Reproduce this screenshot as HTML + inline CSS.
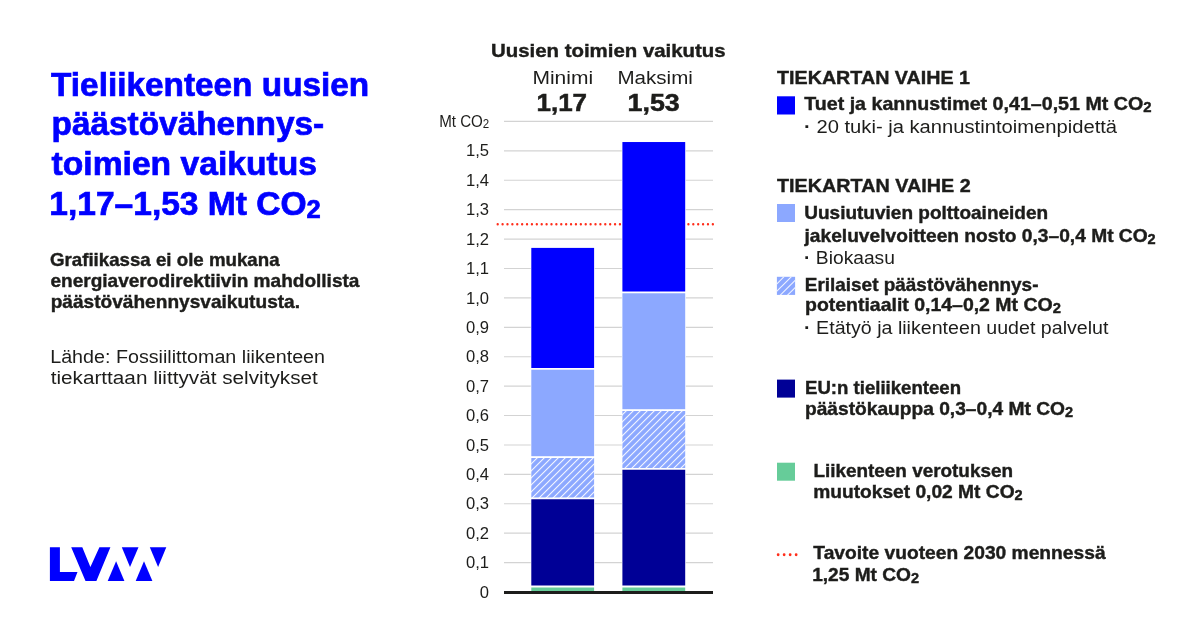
<!DOCTYPE html>
<html lang="fi">
<head>
<meta charset="utf-8">
<title>Tieliikenteen uusien päästövähennystoimien vaikutus</title>
<style>
html,body{margin:0;padding:0;background:#fff;}
body{width:1200px;height:630px;overflow:hidden;}
svg{display:block;font-family:"Liberation Sans", sans-serif;}
text{white-space:pre;}
</style>
</head>
<body>
<svg width="1200" height="630" viewBox="0 0 1200 630">
<rect width="1200" height="630" fill="#fff"/>
<defs>
<pattern id="hatch" width="4.95" height="4.95" patternUnits="userSpaceOnUse" patternTransform="translate(994.35 0) rotate(-45)"><rect width="4.95" height="4.95" fill="#8ca8ff"/><rect width="4.95" height="1.05" fill="#f2f5ff"/></pattern>
<clipPath id="sw"><rect x="776.9" y="276.8" width="18.2" height="18.1"/></clipPath>
</defs>
<!-- grid lines -->
<g stroke="#d3d3d3" stroke-width="1.15">
<line x1="504" y1="562.59" x2="713" y2="562.59"/>
<line x1="504" y1="533.18" x2="713" y2="533.18"/>
<line x1="504" y1="503.77" x2="713" y2="503.77"/>
<line x1="504" y1="474.36" x2="713" y2="474.36"/>
<line x1="504" y1="444.95" x2="713" y2="444.95"/>
<line x1="504" y1="415.54" x2="713" y2="415.54"/>
<line x1="504" y1="386.13" x2="713" y2="386.13"/>
<line x1="504" y1="356.72" x2="713" y2="356.72"/>
<line x1="504" y1="327.31" x2="713" y2="327.31"/>
<line x1="504" y1="297.9" x2="713" y2="297.9"/>
<line x1="504" y1="268.49" x2="713" y2="268.49"/>
<line x1="504" y1="239.08" x2="713" y2="239.08"/>
<line x1="504" y1="209.67" x2="713" y2="209.67"/>
<line x1="504" y1="180.26" x2="713" y2="180.26"/>
<line x1="504" y1="150.85" x2="713" y2="150.85"/>
<line x1="504" y1="121.44" x2="713" y2="121.44"/>
</g>
<!-- target dotted line -->
<line x1="497.7" y1="224.23" x2="715" y2="224.23" stroke="#ff2d1a" stroke-width="2.35" stroke-linecap="round" stroke-dasharray="0 4.89"/>
<!-- bars -->
<rect x="530.7" y="247.3" width="64.0" height="344.7" fill="#fff"/>
<rect x="531.3" y="586.12" width="62.8" height="5.88" fill="#66cc99"/>
<rect x="531.3" y="497.89" width="62.8" height="88.23" fill="#000096"/>
<rect x="531.3" y="456.71" width="62.8" height="41.18" fill="url(#hatch)"/>
<rect x="531.3" y="368.48" width="62.8" height="88.23" fill="#8ca8ff"/>
<rect x="531.3" y="247.9" width="62.8" height="120.58" fill="#0000ff"/>
<line x1="530.3" y1="586.52" x2="595.1" y2="586.52" stroke="#fff" stroke-width="1.8"/>
<line x1="530.3" y1="498.29" x2="595.1" y2="498.29" stroke="#fff" stroke-width="1.8"/>
<line x1="530.3" y1="457.11" x2="595.1" y2="457.11" stroke="#fff" stroke-width="1.8"/>
<line x1="530.3" y1="368.88" x2="595.1" y2="368.88" stroke="#fff" stroke-width="1.8"/>
<rect x="621.8" y="141.43" width="64.0" height="450.57" fill="#fff"/>
<rect x="622.4" y="586.12" width="62.8" height="5.88" fill="#66cc99"/>
<rect x="622.4" y="468.48" width="62.8" height="117.64" fill="#000096"/>
<rect x="622.4" y="409.66" width="62.8" height="58.82" fill="url(#hatch)"/>
<rect x="622.4" y="292.02" width="62.8" height="117.64" fill="#8ca8ff"/>
<rect x="622.4" y="142.03" width="62.8" height="149.99" fill="#0000ff"/>
<line x1="621.4" y1="586.52" x2="686.2" y2="586.52" stroke="#fff" stroke-width="1.8"/>
<line x1="621.4" y1="468.88" x2="686.2" y2="468.88" stroke="#fff" stroke-width="1.8"/>
<line x1="621.4" y1="410.06" x2="686.2" y2="410.06" stroke="#fff" stroke-width="1.8"/>
<line x1="621.4" y1="292.42" x2="686.2" y2="292.42" stroke="#fff" stroke-width="1.8"/>
<!-- axis -->
<rect x="504" y="591" width="209" height="3" fill="#1d1d1b"/>
<!-- y labels -->
<text x="489.0" y="597.6" font-size="16.6" fill="#1d1d1b" text-anchor="end">0</text>
<text x="489.0" y="568.19" font-size="16.6" fill="#1d1d1b" text-anchor="end">0,1</text>
<text x="489.0" y="538.78" font-size="16.6" fill="#1d1d1b" text-anchor="end">0,2</text>
<text x="489.0" y="509.37" font-size="16.6" fill="#1d1d1b" text-anchor="end">0,3</text>
<text x="489.0" y="479.96" font-size="16.6" fill="#1d1d1b" text-anchor="end">0,4</text>
<text x="489.0" y="450.55" font-size="16.6" fill="#1d1d1b" text-anchor="end">0,5</text>
<text x="489.0" y="421.14" font-size="16.6" fill="#1d1d1b" text-anchor="end">0,6</text>
<text x="489.0" y="391.73" font-size="16.6" fill="#1d1d1b" text-anchor="end">0,7</text>
<text x="489.0" y="362.32" font-size="16.6" fill="#1d1d1b" text-anchor="end">0,8</text>
<text x="489.0" y="332.91" font-size="16.6" fill="#1d1d1b" text-anchor="end">0,9</text>
<text x="489.0" y="303.5" font-size="16.6" fill="#1d1d1b" text-anchor="end">1,0</text>
<text x="489.0" y="274.09" font-size="16.6" fill="#1d1d1b" text-anchor="end">1,1</text>
<text x="489.0" y="244.68" font-size="16.6" fill="#1d1d1b" text-anchor="end">1,2</text>
<text x="489.0" y="215.27" font-size="16.6" fill="#1d1d1b" text-anchor="end">1,3</text>
<text x="489.0" y="185.86" font-size="16.6" fill="#1d1d1b" text-anchor="end">1,4</text>
<text x="489.0" y="156.45" font-size="16.6" fill="#1d1d1b" text-anchor="end">1,5</text>
<!-- texts -->
<text x="51.05" y="95.5" font-size="33" fill="#0000ff" font-weight="bold" stroke="#0000ff" stroke-width="0.73" textLength="318.2" lengthAdjust="spacingAndGlyphs">Tieliikenteen uusien</text>
<text x="51.55" y="135.0" font-size="33" fill="#0000ff" font-weight="bold" stroke="#0000ff" stroke-width="0.73" textLength="272.65" lengthAdjust="spacingAndGlyphs">päästövähennys-</text>
<text x="51.55" y="175.0" font-size="33" fill="#0000ff" font-weight="bold" stroke="#0000ff" stroke-width="0.73" textLength="265.45" lengthAdjust="spacingAndGlyphs">toimien vaikutus</text>
<text x="49.3" y="214.6" font-size="33" fill="#0000ff" font-weight="bold" stroke="#0000ff" stroke-width="0.73" textLength="271.49" lengthAdjust="spacingAndGlyphs">1,17–1,53 Mt CO<tspan font-size="25.1" dy="3.3">2</tspan></text>
<text x="49.95" y="265.8" font-size="18.5" fill="#1d1d1b" font-weight="bold" stroke="#1d1d1b" stroke-width="0.41" textLength="229.65" lengthAdjust="spacingAndGlyphs">Grafiikassa ei ole mukana</text>
<text x="50.45" y="287.0" font-size="18.5" fill="#1d1d1b" font-weight="bold" stroke="#1d1d1b" stroke-width="0.41" textLength="309.0" lengthAdjust="spacingAndGlyphs">energiaverodirektiivin mahdollista</text>
<text x="50.7" y="308.3" font-size="18.5" fill="#1d1d1b" font-weight="bold" stroke="#1d1d1b" stroke-width="0.41" textLength="249.35" lengthAdjust="spacingAndGlyphs">päästövähennysvaikutusta.</text>
<text x="50.2" y="363.0" font-size="18.8" fill="#1d1d1b" textLength="274.85" lengthAdjust="spacingAndGlyphs">Lähde: Fossiilittoman liikenteen</text>
<text x="50.7" y="384.3" font-size="18.8" fill="#1d1d1b" textLength="267.1" lengthAdjust="spacingAndGlyphs">tiekarttaan liittyvät selvitykset</text>
<text x="490.95" y="57.4" font-size="18.5" fill="#1d1d1b" font-weight="bold" stroke="#1d1d1b" stroke-width="0.41" textLength="234.75" lengthAdjust="spacingAndGlyphs">Uusien toimien vaikutus</text>
<text x="532.4" y="83.9" font-size="18.8" fill="#1d1d1b" textLength="60.67" lengthAdjust="spacingAndGlyphs">Minimi</text>
<text x="617.5" y="83.9" font-size="18.8" fill="#1d1d1b" textLength="75.36" lengthAdjust="spacingAndGlyphs">Maksimi</text>
<text x="536.5" y="110.7" font-size="24" fill="#1d1d1b" font-weight="bold" stroke="#1d1d1b" stroke-width="0.53" textLength="50.52" lengthAdjust="spacingAndGlyphs">1,17</text>
<text x="627.5" y="110.7" font-size="24" fill="#1d1d1b" font-weight="bold" stroke="#1d1d1b" stroke-width="0.53" textLength="52.25" lengthAdjust="spacingAndGlyphs">1,53</text>
<text x="439.15" y="126.8" font-size="16.3" fill="#1d1d1b" textLength="50.13" lengthAdjust="spacingAndGlyphs">Mt CO<tspan font-size="12.4" dy="1.6">2</tspan></text>
<text x="777.0" y="83.6" font-size="18.8" fill="#1d1d1b" font-weight="bold" stroke="#1d1d1b" stroke-width="0.41" textLength="193.05" lengthAdjust="spacingAndGlyphs">TIEKARTAN VAIHE 1</text>
<text x="804.2" y="110.4" font-size="18.6" fill="#1d1d1b" font-weight="bold" stroke="#1d1d1b" stroke-width="0.41" textLength="347.3" lengthAdjust="spacingAndGlyphs">Tuet ja kannustimet 0,41–0,51 Mt CO<tspan font-size="14.1" dy="1.9">2</tspan></text>
<text x="804.1" y="132.6" font-size="18.3" fill="#1d1d1b" textLength="313.01" lengthAdjust="spacingAndGlyphs"><tspan font-weight="bold">·</tspan> 20 tuki- ja kannustintoimenpidettä</text>
<text x="777.0" y="192.4" font-size="18.8" fill="#1d1d1b" font-weight="bold" stroke="#1d1d1b" stroke-width="0.41" textLength="193.75" lengthAdjust="spacingAndGlyphs">TIEKARTAN VAIHE 2</text>
<text x="804.25" y="219.4" font-size="18.6" fill="#1d1d1b" font-weight="bold" stroke="#1d1d1b" stroke-width="0.41" textLength="243.9" lengthAdjust="spacingAndGlyphs">Uusiutuvien polttoaineiden</text>
<text x="804.5" y="241.6" font-size="18.6" fill="#1d1d1b" font-weight="bold" stroke="#1d1d1b" stroke-width="0.41" textLength="351.2" lengthAdjust="spacingAndGlyphs">jakeluvelvoitteen nosto 0,3–0,4 Mt CO<tspan font-size="14.1" dy="1.9">2</tspan></text>
<text x="804.1" y="263.9" font-size="18.3" fill="#1d1d1b" textLength="90.85" lengthAdjust="spacingAndGlyphs"><tspan font-weight="bold">·</tspan> Biokaasu</text>
<text x="804.75" y="290.6" font-size="18.6" fill="#1d1d1b" font-weight="bold" stroke="#1d1d1b" stroke-width="0.41" textLength="233.7" lengthAdjust="spacingAndGlyphs">Erilaiset päästövähennys-</text>
<text x="805.0" y="311.1" font-size="18.6" fill="#1d1d1b" font-weight="bold" stroke="#1d1d1b" stroke-width="0.41" textLength="255.85" lengthAdjust="spacingAndGlyphs">potentiaalit 0,14–0,2 Mt CO<tspan font-size="14.1" dy="1.9">2</tspan></text>
<text x="804.1" y="333.8" font-size="18.3" fill="#1d1d1b" textLength="304.36" lengthAdjust="spacingAndGlyphs"><tspan font-weight="bold">·</tspan> Etätyö ja liikenteen uudet palvelut</text>
<text x="805.0" y="394.3" font-size="18.6" fill="#1d1d1b" font-weight="bold" stroke="#1d1d1b" stroke-width="0.41" textLength="156.0" lengthAdjust="spacingAndGlyphs">EU:n tieliikenteen</text>
<text x="805.0" y="415.3" font-size="18.6" fill="#1d1d1b" font-weight="bold" stroke="#1d1d1b" stroke-width="0.41" textLength="268.0" lengthAdjust="spacingAndGlyphs">päästökauppa 0,3–0,4 Mt CO<tspan font-size="14.1" dy="1.9">2</tspan></text>
<text x="813.4" y="476.8" font-size="18.6" fill="#1d1d1b" font-weight="bold" stroke="#1d1d1b" stroke-width="0.41" textLength="199.6" lengthAdjust="spacingAndGlyphs">Liikenteen verotuksen</text>
<text x="813.15" y="498.2" font-size="18.6" fill="#1d1d1b" font-weight="bold" stroke="#1d1d1b" stroke-width="0.41" textLength="209.55" lengthAdjust="spacingAndGlyphs">muutokset 0,02 Mt CO<tspan font-size="14.1" dy="1.9">2</tspan></text>
<text x="813.35" y="558.9" font-size="18.6" fill="#1d1d1b" font-weight="bold" stroke="#1d1d1b" stroke-width="0.41" textLength="292.25" lengthAdjust="spacingAndGlyphs">Tavoite vuoteen 2030 mennessä</text>
<text x="812.15" y="580.9" font-size="18.6" fill="#1d1d1b" font-weight="bold" stroke="#1d1d1b" stroke-width="0.41" textLength="106.93" lengthAdjust="spacingAndGlyphs">1,25 Mt CO<tspan font-size="14.1" dy="1.9">2</tspan></text>
<!-- logo -->
<g fill="#0000ff">
<path d="M49.9 547.3H59.9V572.1H77.5L74 580.9H49.9Z"/>
<path d="M71.2 547.3H82.3L90.4 567L99.4 547.3H110.4L96.4 580.9H85.5Z"/>
<path d="M116.1 561.3L124.4 580.9H107.7Z"/>
<path d="M121.8 547.3H138.5L130 567Z"/>
<path d="M144 561.3L152.4 580.9H135.7Z"/>
<path d="M149.8 547.3H166.3L158.1 567Z"/>
</g>
<!-- legend swatches -->
<rect x="777" y="96.3" width="18" height="18.2" fill="#0000ff"/>
<rect x="777" y="204" width="18" height="18" fill="#8ca8ff"/>
<rect x="776.9" y="276.8" width="18.2" height="18.1" fill="#8ca8ff"/>
<g clip-path="url(#sw)" stroke="#f2f5ff" stroke-width="1.05">
<line x1="770" y1="290.7" x2="800" y2="260.7"/>
<line x1="770" y1="298.1" x2="800" y2="268.1"/>
<line x1="770" y1="305.4" x2="800" y2="275.4"/>
<line x1="770" y1="312.7" x2="800" y2="282.7"/>
</g>
<rect x="777" y="379.6" width="18" height="18" fill="#000096"/>
<rect x="777" y="462.7" width="18" height="18" fill="#66cc99"/>
<line x1="778.15" y1="554.75" x2="797" y2="554.75" stroke="#ff2d1a" stroke-width="2.8" stroke-linecap="round" stroke-dasharray="0 6"/>
</svg>
</body>
</html>
